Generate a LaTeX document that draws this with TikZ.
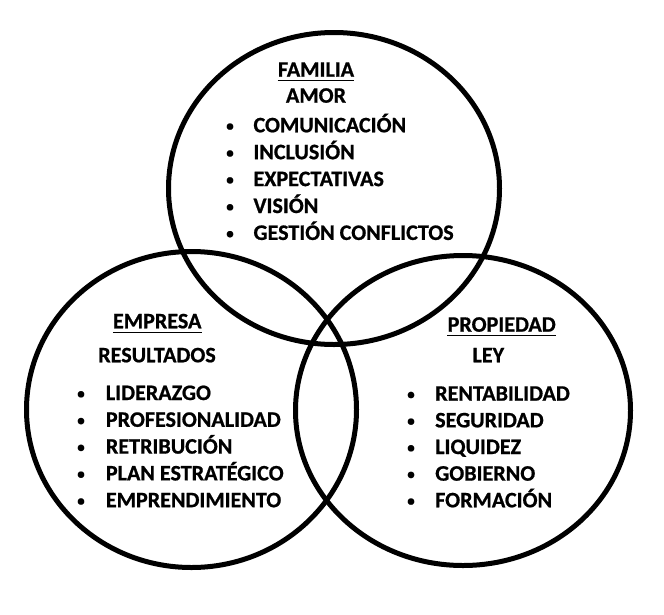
\documentclass[tikz,border=0pt]{standalone}
\usepackage{fontspec}
\setmainfont{Carlito}[BoldFeatures={FakeBold=0.8}]
\begin{document}
\begin{tikzpicture}[x=1pt,y=-1pt,
  circ/.style={line width=5pt},
  txt/.style={inner sep=0pt, font=\bfseries\fontsize{22.1}{26}\selectfont},
  bul/.style={inner sep=0pt, font=\bfseries\fontsize{15}{18}\selectfont},
  ul/.style={line width=1.5pt}]
\useasboundingbox (0,0) rectangle (664,614);
% circles
\draw[circ] (334,188.5) ellipse [x radius=165.5, y radius=156];
\draw[circ] (191.5,409.5) ellipse [x radius=165, y radius=158];
\draw[circ] (463,410.5) ellipse [x radius=167.5, y radius=155];
% FAMILIA
\node[txt, anchor=base] (fam) at (316,76.7) {FAMILIA};
\draw[ul] ([yshift=-4pt]fam.base west) -- ([yshift=-4pt]fam.base east);
\node[txt, anchor=base] (amor) at (316,102.7) {AMOR};
\foreach \t [count=\i] in {COMUNICACIÓN,INCLUSIÓN,EXPECTATIVAS,VISIÓN,GESTIÓN CONFLICTOS}{
  \node[bul, anchor=base] (fb\i) at (230,{130.8+26.9*(\i-1)}) {•};
  \node[txt, anchor=base west] (ft\i) at (253.3,{132.3+26.9*(\i-1)}) {\t};
}
% EMPRESA
\node[txt, anchor=base] (emp) at (157.2,328.3) {EMPRESA};
\draw[ul] ([yshift=-4pt]emp.base west) -- ([yshift=-4pt]emp.base east);
\node[txt, anchor=base] (res) at (157,362.3) {RESULTADOS};
\foreach \t [count=\i] in {LIDERAZGO,PROFESIONALIDAD,RETRIBUCIÓN,PLAN ESTRATÉGICO,EMPRENDIMIENTO}{
  \node[bul, anchor=base] (eb\i) at (81,{398.5+26.8*(\i-1)}) {•};
  \node[txt, anchor=base west] (et\i) at (105.7,{400+26.8*(\i-1)}) {\t};
}
% PROPIEDAD
\node[txt, anchor=base] (pro) at (501.7,331.7) {PROPIEDAD};
\draw[ul] ([yshift=-4pt]pro.base west) -- ([yshift=-4pt]pro.base east);
\node[txt, anchor=base] (ley) at (488.3,362.3) {LEY};
\foreach \t [count=\i] in {RENTABILIDAD,SEGURIDAD,LIQUIDEZ,GOBIERNO,FORMACIÓN}{
  \node[bul, anchor=base] (pb\i) at (411,{399.2+26.65*(\i-1)}) {•};
  \node[txt, anchor=base west] (pt\i) at (435,{400.7+26.65*(\i-1)}) {\t};
}
\end{tikzpicture}
\end{document}
